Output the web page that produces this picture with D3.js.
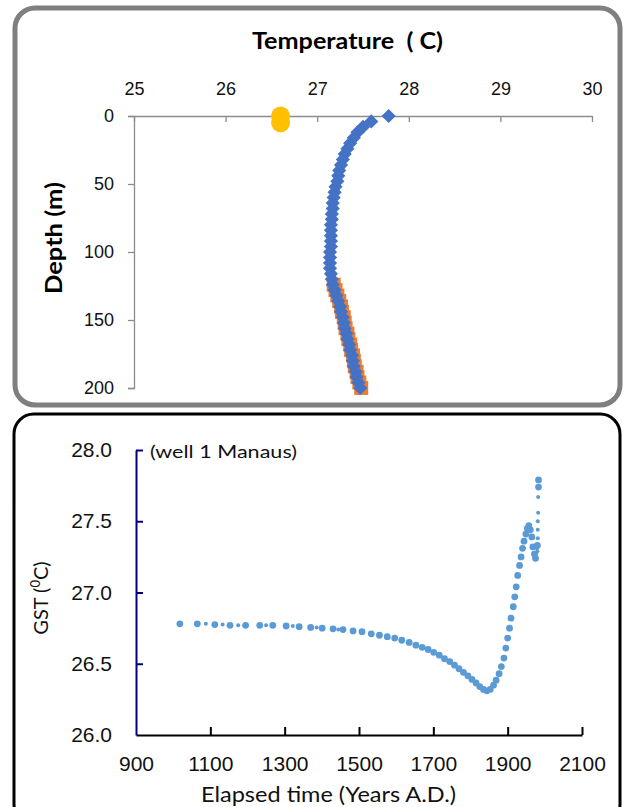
<!DOCTYPE html>
<html>
<head>
<meta charset="utf-8">
<script src="https://cdn.jsdelivr.net/npm/d3@7"></script>
<style>
  body { margin: 0; background: #fff; }
  svg { display: block; font-family: Lato, "Open Sans", sans-serif; }
</style>
</head>
<body>
<svg id="chart" width="624" height="807"></svg>
<script>
// top panel: temperature profile
const tempTicks = [25, 26, 27, 28, 29, 30]
const depthTicks = [0, 50, 100, 150, 200]

const depthBlue = [0, 4, 8, 12, 16, 20, 24, 28, 32, 36, 40, 44, 48, 52, 56, 60, 64, 68, 72, 76, 80,
  84, 88, 92, 96, 100, 104, 108, 112, 116, 120, 124, 128, 132, 136, 140, 144, 148, 152, 156, 160,
  164, 168, 172, 176, 180, 184, 188, 192, 196, 200]
const tempBlue = [27.78, 27.59, 27.50, 27.44, 27.40, 27.36, 27.33, 27.30, 27.28, 27.26, 27.24,
  27.23, 27.22, 27.20, 27.19, 27.18, 27.17, 27.17, 27.16, 27.16, 27.15, 27.15, 27.15, 27.15, 27.15,
  27.14, 27.14, 27.14, 27.14, 27.15, 27.16, 27.17, 27.19, 27.21, 27.23, 27.25, 27.26, 27.28, 27.29,
  27.30, 27.32, 27.33, 27.35, 27.36, 27.38, 27.39, 27.40, 27.42, 27.43, 27.45, 27.47]

const depthOrange = [124, 128, 132, 136, 140, 144, 148, 152, 156, 160, 164, 168, 172, 176, 180,
  184, 188, 192, 196, 200]
const tempOrange = [27.18, 27.20, 27.22, 27.24, 27.26, 27.27, 27.29, 27.30, 27.31, 27.33, 27.34,
  27.36, 27.37, 27.39, 27.40, 27.41, 27.43, 27.44, 27.46, 27.48]

const depthYellow = [0, 5]
const tempYellow = [26.6, 26.6]

// bottom panel: GST history
const yearTicks = [900, 1100, 1300, 1500, 1700, 1900, 2100]
const gstTicks = [26.0, 26.5, 27.0, 27.5, 28.0]

const yearBig = [1018, 1065, 1112, 1153, 1195, 1233, 1268, 1304, 1339, 1370, 1401, 1430, 1457,
  1484, 1508, 1533, 1555, 1576, 1596, 1615, 1635, 1653, 1670, 1686, 1701, 1716, 1730, 1744, 1757,
  1769, 1781, 1793, 1804, 1815, 1825, 1835, 1844, 1853, 1862, 1869, 1877, 1883, 1890, 1895, 1900,
  1905, 1909, 1915, 1919, 1923, 1927, 1932, 1936, 1940, 1944, 1949, 1953, 1957, 1961, 1965, 1968,
  1972, 1975, 1980, 1983, 1983]
const gstBig = [26.78, 26.78, 26.775, 26.77, 26.77, 26.77, 26.77, 26.765, 26.76, 26.755, 26.75,
  26.745, 26.74, 26.73, 26.725, 26.71, 26.70, 26.69, 26.68, 26.665, 26.65, 26.63, 26.615, 26.60,
  26.58, 26.56, 26.535, 26.515, 26.49, 26.465, 26.44, 26.415, 26.39, 26.365, 26.34, 26.32, 26.31,
  26.32, 26.35, 26.385, 26.43, 26.48, 26.54, 26.61, 26.68, 26.75, 26.82, 26.90, 26.97, 27.04,
  27.12, 27.19, 27.25, 27.31, 27.36, 27.41, 27.45, 27.47, 27.44, 27.39, 27.32, 27.27, 27.24,
  27.33, 27.74, 27.79]

const yearSmall = [1088, 1133, 1175, 1250, 1322, 1386, 1444, 1980, 1981, 1981, 1981, 1982, 1982,
  1979, 1977]
const gstSmall = [26.78, 26.775, 26.77, 26.77, 26.765, 26.755, 26.74, 27.29, 27.38, 27.44, 27.50,
  27.56, 27.67, 27.31, 27.28]

const svg = d3.select("#chart")

// panel frames
svg.append("rect")
  .attr("x", 15).attr("y", 8).attr("width", 605).attr("height", 397)
  .attr("rx", 20).attr("fill", "none").attr("stroke", "#7f7f7f").attr("stroke-width", 5)
svg.append("rect")
  .attr("x", 14).attr("y", 414).attr("width", 606).attr("height", 410)
  .attr("rx", 20).attr("fill", "none").attr("stroke", "#000").attr("stroke-width", 3)

// ---------- top chart
const xT = d3.scaleLinear().domain([25, 30]).range([134, 592])
const yT = d3.scaleLinear().domain([0, 200]).range([116, 388])

const topG = svg.append("g")

topG.append("g")
  .attr("transform", "translate(0," + yT(0) + ")")
  .call(d3.axisTop(xT).tickValues(tempTicks).tickFormat(d3.format("d"))
    .tickSizeInner(-6).tickSizeOuter(0).tickPadding(21))
  .call(g => g.selectAll("text").attr("font-size", 18).attr("fill", "#111"))

topG.append("g")
  .attr("transform", "translate(" + xT(25) + ",0)")
  .call(d3.axisLeft(yT).tickValues(depthTicks).tickFormat(d3.format("d")).tickSize(6).tickPadding(14))
  .call(g => g.selectAll("text").attr("font-size", 18).attr("fill", "#111"))

topG.selectAll(".domain, .tick line").attr("stroke", "#8c8c8c").attr("stroke-width", 1.3)

topG.append("text")
  .attr("x", 252).attr("y", 49)
  .attr("font-size", 23).attr("font-weight", "bold")
  .attr("textLength", 191).attr("lengthAdjust", "spacingAndGlyphs")
  .style("white-space", "pre")
  .text("Temperature  ( C)")

topG.append("text")
  .attr("transform", "translate(62,238) rotate(-90)")
  .attr("text-anchor", "middle").attr("font-size", 23).attr("font-weight", "bold")
  .attr("textLength", 112).attr("lengthAdjust", "spacingAndGlyphs")
  .text("Depth (m)")

// orange squares under the blue diamonds
const sq = 14
topG.selectAll(".sq")
  .data(depthOrange.map((d, i) => [tempOrange[i], d]))
  .enter().append("rect")
  .attr("x", d => xT(d[0]) - sq / 2)
  .attr("y", d => yT(d[1]) - sq / 2)
  .attr("width", sq).attr("height", sq)
  .attr("fill", "#ED7D31")

const diamond = d3.symbol().type(d3.symbolDiamond2).size(128)
topG.selectAll(".dia")
  .data(depthBlue.map((d, i) => [tempBlue[i], d]))
  .enter().append("path")
  .attr("d", diamond)
  .attr("transform", d => "translate(" + xT(d[0]) + "," + yT(d[1]) + ")")
  .attr("fill", "#4472C4")

topG.selectAll(".yel")
  .data(depthYellow.map((d, i) => [tempYellow[i], d]))
  .enter().append("circle")
  .attr("cx", d => xT(d[0])).attr("cy", d => yT(d[1]))
  .attr("r", 9.5).attr("fill", "#FFC000")

// ---------- bottom chart
const xB = d3.scaleLinear().domain([900, 2100]).range([136, 582])
const yB = d3.scaleLinear().domain([26, 28]).range([735, 450])

const botG = svg.append("g")

botG.append("g")
  .attr("transform", "translate(0," + yB(26) + ")")
  .call(d3.axisBottom(xB).tickValues(yearTicks).tickFormat(d3.format("d"))
    .tickSizeInner(-8).tickSizeOuter(0).tickPadding(21))
  .call(g => g.selectAll(".domain, .tick line").attr("stroke", "#000").attr("stroke-width", 2))
  .call(g => g.selectAll(".tick").filter(d => d === 900).select("line").remove())
  .call(g => g.selectAll("text").attr("font-size", 21).attr("fill", "#111"))

botG.append("g")
  .attr("transform", "translate(" + xB(900) + ",0)")
  .call(d3.axisLeft(yB).tickValues(gstTicks).tickFormat(d3.format(".1f"))
    .tickSizeInner(-7).tickSizeOuter(0).tickPadding(24))
  .call(g => g.selectAll(".domain, .tick line").attr("stroke", "#000080").attr("stroke-width", 2))
  .call(g => g.selectAll(".tick").filter(d => d === 26).select("line").remove())
  .call(g => g.selectAll("text").attr("font-size", 21).attr("fill", "#111"))

botG.append("text")
  .attr("x", 150).attr("y", 458).attr("font-size", 18).attr("fill", "#111")
  .attr("textLength", 147).attr("lengthAdjust", "spacingAndGlyphs")
  .text("(well 1 Manaus)")

botG.append("text")
  .attr("x", 201).attr("y", 802)
  .attr("font-size", 21).attr("fill", "#111")
  .attr("textLength", 255).attr("lengthAdjust", "spacingAndGlyphs")
  .text("Elapsed time (Years A.D.)")

const gstLab = botG.append("text")
  .attr("transform", "translate(48,598) rotate(-90)")
  .attr("text-anchor", "middle").attr("font-size", 20).attr("fill", "#111")
gstLab.append("tspan").text("GST (")
gstLab.append("tspan").attr("font-size", 13).attr("dy", -8).text("0")
gstLab.append("tspan").attr("dy", 8).text("C)")

botG.selectAll(".sm")
  .data(yearSmall.map((d, i) => [d, gstSmall[i]]))
  .enter().append("circle")
  .attr("cx", d => xB(d[0])).attr("cy", d => yB(d[1]))
  .attr("r", 2).attr("fill", "#5B9BD5")

botG.selectAll(".big")
  .data(yearBig.map((d, i) => [d, gstBig[i]]))
  .enter().append("circle")
  .attr("cx", d => xB(d[0])).attr("cy", d => yB(d[1]))
  .attr("r", 3.4).attr("fill", "#5B9BD5")
</script>
</body>
</html>
